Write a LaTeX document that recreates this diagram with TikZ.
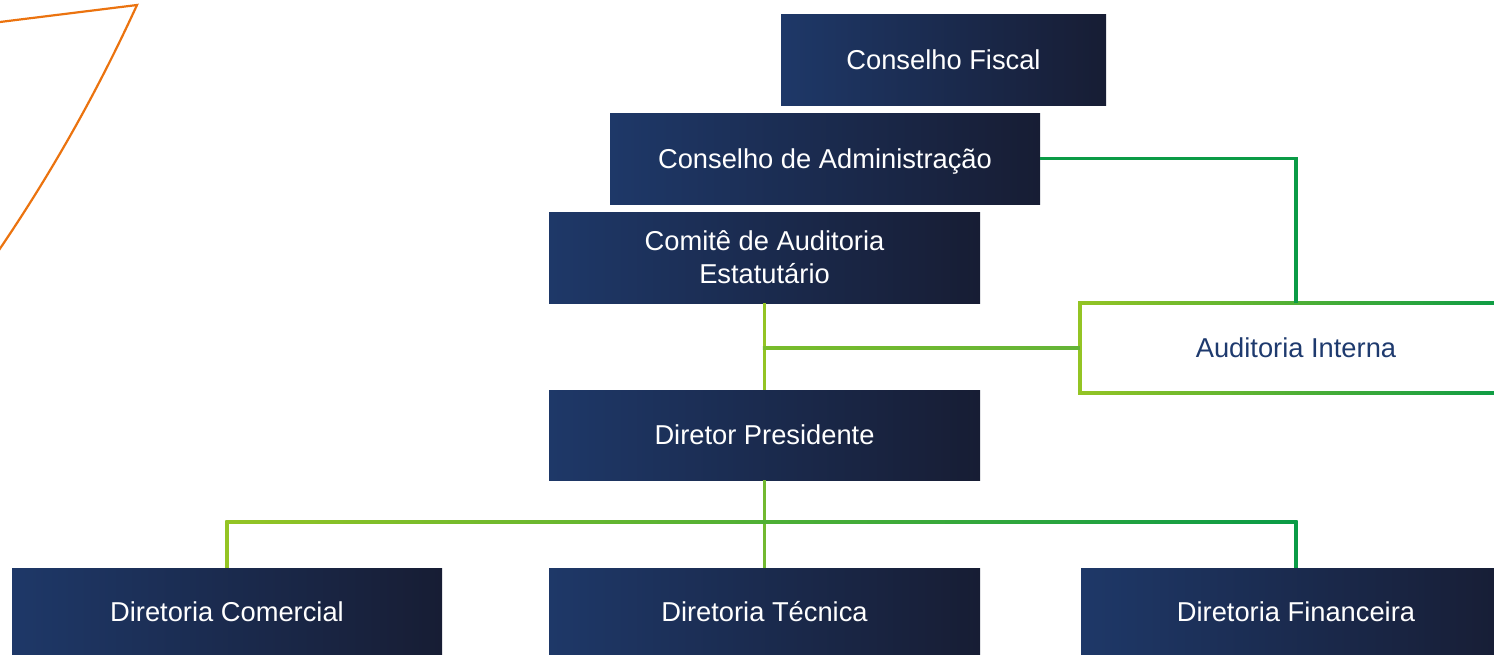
\documentclass[tikz,border=0pt]{standalone}
\usepackage{fontspec}
\setmainfont{Liberation Sans}
\usetikzlibrary{calc}
\definecolor{boxL}{RGB}{30,56,104}
\definecolor{boxR}{RGB}{23,29,52}
\definecolor{lgreen}{RGB}{148,196,36}
\definecolor{dgreen}{RGB}{10,155,70}
\definecolor{mgreen}{RGB}{100,180,55}
\definecolor{orangeln}{RGB}{235,115,15}
\definecolor{txtblue}{RGB}{30,58,110}
\begin{document}
\begin{tikzpicture}[x=1pt,y=-1pt,
  orgbox/.style={rectangle, inner sep=0pt, minimum height=91pt, minimum width=431pt,
    left color=boxL, right color=boxR, text=white,
    font=\fontsize{27.3}{33}\selectfont, align=center},
  oneline/.style={text height=19.6pt, text depth=0pt},
  outbox/.style={rectangle, inner sep=0pt, minimum height=90pt, minimum width=432pt,
    text=txtblue, font=\fontsize{27.3}{33}\selectfont, oneline},
  conn/.style={line width=3.4pt},
]
\useasboundingbox (0,0) rectangle (1494,654);
\clip (0,0) rectangle (1494,654);

% orange decoration
\draw[orangeln, line width=2.2pt, line join=miter] (-5,22.6) -- (137,5) .. controls (98,90) and (53,171) .. (-3,253);

% nodes
\node[orgbox, oneline, minimum width=325pt] (cf) at (943.5,59.5) {Conselho Fiscal};
\node[orgbox, oneline, minimum width=430pt] (ca) at (825,158.5) {Conselho de Administração};
\node[orgbox] (cm) at (764.5,257.5) {Comitê de Auditoria\\Estatutário};
\node[outbox] (ai) at (1296,348) {Auditoria Interna};
\node[orgbox, oneline, minimum height=90pt] (dp) at (764.5,435) {Diretor Presidente};
\node[orgbox, oneline, minimum height=88pt, minimum width=430pt] (dc) at (227,612) {Diretoria Comercial};
\node[orgbox, oneline, minimum height=88pt] (dt) at (764.5,612) {Diretoria Técnica};
\node[orgbox, oneline, minimum height=88pt, minimum width=430pt] (df) at (1296,612) {Diretoria Financeira};

% Auditoria Interna outline
\draw[conn, lgreen] ($(ai.north west)+(0,-1.7)$) -- ($(ai.south west)+(0,1.7)$);
\shade[left color=lgreen, right color=dgreen] ($(ai.north west)+(-1.7,-1.7)$) rectangle ($(ai.north east)+(0,1.7)$);
\shade[left color=lgreen, right color=dgreen] ($(ai.south west)+(-1.7,-1.7)$) rectangle ($(ai.south east)+(0,1.7)$);

% connectors
\draw[conn, dgreen] (ca.east) -| (ai.north);
\draw[conn, lgreen] (cm.south) -- (dp.north);
\coordinate (aj) at (cm.south |- ai.west);
\shade[left color=lgreen!80!dgreen, right color=mgreen] ($(aj)+(-1.7,-1.7)$) rectangle ($(ai.west)+(0,1.7)$);
\draw[conn, mgreen!70!lgreen] (dp.south) -- (dt.north);
\coordinate (br) at (764.5,522);
\draw[conn, lgreen] (dc.north) -- (dc.north |- br);
\draw[conn, dgreen] (df.north) -- (df.north |- br);
\shade[left color=lgreen, right color=dgreen] ($(dc.north |- br)+(-1.7,-1.7)$) rectangle ($(df.north |- br)+(1.7,1.7)$);
\end{tikzpicture}
\end{document}
